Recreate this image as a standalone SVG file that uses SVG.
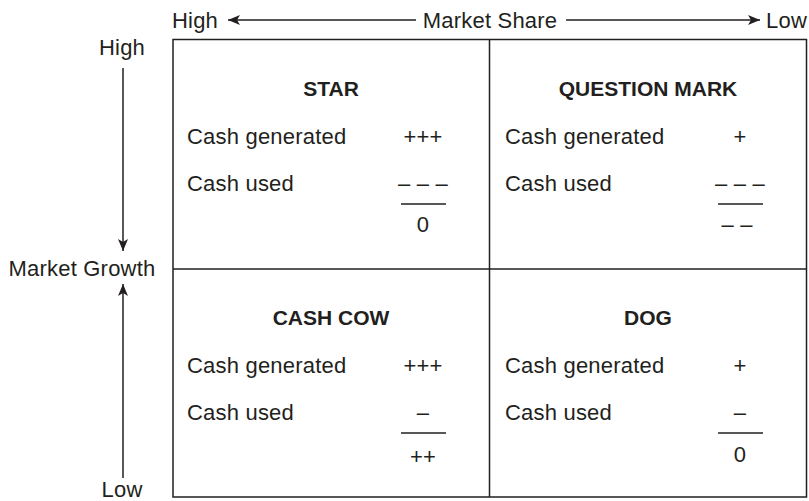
<svg xmlns="http://www.w3.org/2000/svg" width="809" height="501" viewBox="0 0 809 501">
<defs>
<style>
text{font-family:"Liberation Sans",Arial,sans-serif;font-size:22px;fill:#231f20;letter-spacing:0.2px}
.b{font-weight:bold;text-anchor:middle;font-size:21px;letter-spacing:0}
.c{text-anchor:middle}
.ln{stroke:#231f20;stroke-width:1.5;fill:none}
.rule{stroke:#231f20;stroke-width:1.5}
</style>
<marker id="ah" viewBox="0 0 12 10" refX="12" refY="5" markerWidth="12" markerHeight="10" markerUnits="userSpaceOnUse" orient="auto">
<path d="M0,0 L12,5 L0,10 L3,5 Z" fill="#231f20"/>
</marker>
</defs>
<rect width="809" height="501" fill="#fff"/>
<g id="axes">
<text x="172" y="28">High</text>
<text x="490" y="28" class="c">Market Share</text>
<text x="807" y="28" text-anchor="end">Low</text>
<text x="122" y="55" class="c">High</text>
<text x="82" y="276" class="c">Market Growth</text>
<text x="122" y="497" class="c">Low</text>
</g>
<g id="connectors">
<line class="ln" x1="416" y1="20" x2="228" y2="20" marker-end="url(#ah)"/>
<line class="ln" x1="566" y1="20" x2="760" y2="20" marker-end="url(#ah)"/>
<line class="ln" x1="123" y1="68" x2="123" y2="251" marker-end="url(#ah)"/>
<line class="ln" x1="123" y1="478" x2="123" y2="284" marker-end="url(#ah)"/>
</g>
<g id="grid">
<rect class="ln" x="173" y="39.5" width="633.5" height="457.5"/>
<line class="ln" x1="489.5" y1="39.5" x2="489.5" y2="497"/>
<line class="ln" x1="173" y1="269" x2="806.5" y2="269"/>
</g>
<g id="star">
<text x="331" y="96" class="b">STAR</text>
<text x="187" y="144">Cash generated</text>
<text x="423" y="144" class="c">+++</text>
<text x="187" y="191">Cash used</text>
<text x="423" y="191" class="c">– – –</text>
<line class="rule" x1="401" y1="204" x2="446" y2="204"/>
<text x="423" y="232" class="c">0</text>
</g>
<g id="question-mark">
<text x="648" y="96" class="b">QUESTION MARK</text>
<text x="505" y="144">Cash generated</text>
<text x="740" y="144" class="c">+</text>
<text x="505" y="191">Cash used</text>
<text x="740" y="191" class="c">– – –</text>
<line class="rule" x1="718" y1="204" x2="763" y2="204"/>
<text x="737" y="232" class="c">– –</text>
</g>
<g id="cash-cow">
<text x="331" y="325" class="b">CASH COW</text>
<text x="187" y="373">Cash generated</text>
<text x="423" y="373" class="c">+++</text>
<text x="187" y="420">Cash used</text>
<text x="423" y="420" class="c">–</text>
<line class="rule" x1="401" y1="433" x2="446" y2="433"/>
<text x="423" y="464" class="c">++</text>
</g>
<g id="dog">
<text x="648" y="325" class="b">DOG</text>
<text x="505" y="373">Cash generated</text>
<text x="740" y="373" class="c">+</text>
<text x="505" y="420">Cash used</text>
<text x="740" y="420" class="c">–</text>
<line class="rule" x1="718" y1="433" x2="763" y2="433"/>
<text x="740" y="462" class="c">0</text>
</g>
</svg>
